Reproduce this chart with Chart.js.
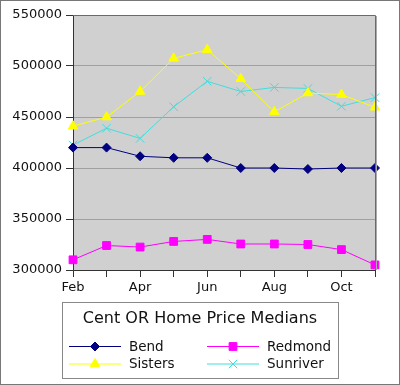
<!DOCTYPE html>
<html>
<head>
<meta charset="utf-8">
<script src="https://cdn.jsdelivr.net/npm/chart.js@4/dist/chart.umd.min.js"></script>
<style>
  body { margin: 0; background: #fff; }
  #wrap { width: 398px; height: 383px; border: 1px solid #777; position: relative; }
</style>
</head>
<body>
<div id="wrap"><canvas id="priceChart" width="398" height="383"></canvas></div>
<script>
// data
const months = ['Feb', 'Mar', 'Apr', 'May', 'Jun', 'Jul', 'Aug', 'Sep', 'Oct', 'Nov'];
const bend = [420000, 420000, 411500, 410000, 410000, 400000, 400000, 399000, 400000, 400000];
const redmond = [310000, 324000, 322500, 328000, 330000, 325500, 325500, 325000, 320000, 305000];
const sisters = [441000, 450000, 475000, 507500, 516000, 487500, 455000, 473500, 472000, 459500];
const sunriver = [422500, 439000, 429000, 460000, 485000, 475000, 479000, 478000, 460500, 469000];
const yTicks = [300000, 350000, 400000, 450000, 500000, 550000];
const legendTitle = 'Cent OR Home Price Medians';

const font = "'DejaVu Sans', sans-serif";

function series(label, data, color, style, radius) {
    return {
        label: label,
        data: data,
        borderColor: color,
        backgroundColor: color,
        borderWidth: 1,
        tension: 0,
        pointStyle: style,
        pointRadius: radius,
        pointHoverRadius: radius,
        pointBackgroundColor: color,
        pointBorderColor: color,
        pointBorderWidth: 1
    };
}

// gray plot background + frame
const plotBox = {
    id: 'plotBox',
    beforeDraw(chart) {
        const { ctx, chartArea: a } = chart;
        ctx.save();
        ctx.fillStyle = '#d0d0d0';
        ctx.fillRect(a.left, a.top, a.right - a.left, a.bottom - a.top);
        ctx.restore();
    },
    afterDatasetsDraw(chart) {
        const { ctx, chartArea: a } = chart;
        ctx.save();
        ctx.strokeStyle = '#6a6a6a';
        ctx.lineWidth = 1;
        ctx.beginPath();
        ctx.moveTo(a.left, a.top + 0.5);
        ctx.lineTo(a.right + 0.5, a.top + 0.5);
        ctx.lineTo(a.right + 0.5, a.bottom);
        ctx.stroke();
        ctx.strokeStyle = '#aaaaaa';
        ctx.beginPath();
        ctx.moveTo(a.right + 1.5, a.top + 1);
        ctx.lineTo(a.right + 1.5, a.bottom);
        ctx.stroke();
        ctx.restore();
    }
};

// boxed legend with title, two columns
const boxLegend = {
    id: 'boxLegend',
    afterDraw(chart) {
        const ctx = chart.ctx;
        const bx = 61, by = 301, bw = 276, bh = 76;
        ctx.save();
        ctx.fillStyle = '#fff';
        ctx.fillRect(bx, by, bw, bh);
        ctx.strokeStyle = '#888';
        ctx.lineWidth = 1;
        ctx.strokeRect(bx + 0.5, by + 0.5, bw, bh);

        ctx.fillStyle = '#111';
        ctx.font = '16px ' + font;
        ctx.textAlign = 'center';
        ctx.textBaseline = 'middle';
        ctx.fillText(legendTitle, bx + bw / 2, by + 17);

        ctx.font = '13.5px ' + font;
        ctx.textAlign = 'left';
        chart.data.datasets.forEach((ds, i) => {
            const col = i % 2, row = Math.floor(i / 2);
            const x0 = bx + 7 + col * 138;
            const y = by + 44 + row * 17.5;
            ctx.strokeStyle = ds.borderColor;
            ctx.fillStyle = ds.backgroundColor;
            ctx.lineWidth = 1;
            ctx.beginPath();
            ctx.moveTo(x0, y + 0.5);
            ctx.lineTo(x0 + 52, y + 0.5);
            ctx.stroke();
            Chart.helpers.drawPoint(ctx, {
                pointStyle: ds.pointStyle,
                radius: ds.pointRadius,
                rotation: 0,
                borderWidth: 1
            }, x0 + 26, y + 0.5);
            ctx.fillStyle = '#111';
            ctx.fillText(ds.label, x0 + 60, y + 1);
        });
        ctx.restore();
    }
};

new Chart(document.getElementById('priceChart'), {
    type: 'line',
    data: {
        labels: months,
        datasets: [
            series('Bend', bend, '#000080', 'rectRot', 4.5),
            series('Redmond', redmond, '#ff00ff', 'rect', 5.5),
            series('Sisters', sisters, '#ffff00', 'triangle', 5.5),
            series('Sunriver', sunriver, '#40dede', 'crossRot', 6)
        ]
    },
    options: {
        responsive: false,
        animation: false,
        layout: { padding: { left: 0, right: 24, top: 14, bottom: 84 } },
        plugins: { legend: { display: false }, tooltip: { enabled: false } },
        scales: {
            x: {
                offset: false,
                afterFit(scale) { scale.height = 30; },
                grid: { drawOnChartArea: false, drawTicks: true, tickLength: 7, color: '#333' },
                border: { color: '#333' },
                ticks: {
                    autoSkip: false,
                    maxRotation: 0,
                    padding: 3,
                    color: '#111',
                    font: { family: font, size: 13 },
                    callback(v, i) { return i % 2 === 0 ? months[i] : ''; }
                }
            },
            y: {
                min: yTicks[0],
                max: yTicks[yTicks.length - 1],
                afterFit(scale) { scale.width = 72; },
                afterBuildTicks(scale) { scale.ticks = yTicks.map(v => ({ value: v })); },
                grid: { color: '#a0a0a0', tickColor: '#333', tickLength: 7 },
                border: { color: '#333' },
                ticks: {
                    padding: 4,
                    color: '#111',
                    font: { family: font, size: 13 },
                    callback(v) { return String(v); }
                }
            }
        }
    },
    plugins: [plotBox, boxLegend]
});
</script>
</body>
</html>
